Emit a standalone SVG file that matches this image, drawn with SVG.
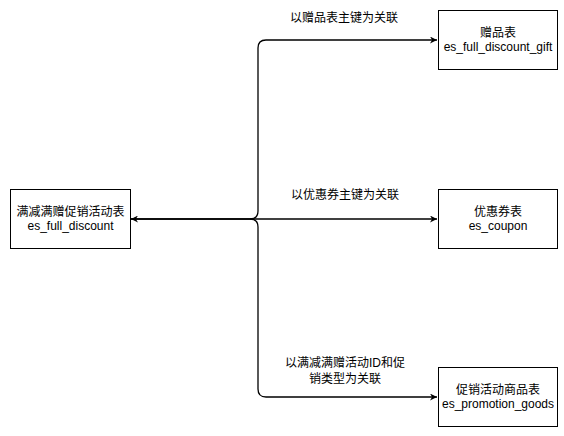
<svg xmlns="http://www.w3.org/2000/svg" width="564" height="436" viewBox="0 0 564 436">
<defs>
<marker id="arr" viewBox="0 0 10 10" refX="10" refY="5" markerWidth="7" markerHeight="7" markerUnits="userSpaceOnUse" orient="auto-start-reverse">
<path d="M0,0 L10,5 L0,10 L3,5 Z" fill="#000"/>
</marker>
<style>
.box{fill:#fff;stroke:#000;stroke-width:1}
.t{font-family:"Liberation Sans","Noto Sans CJK SC",sans-serif;font-size:12px;fill:#000;text-anchor:middle}
.e{fill:none;stroke:#000;stroke-width:1.3}
</style>
</defs>
<rect width="564" height="436" fill="#fff"/>
<g id="connectors">
<path class="e" d="M131 219 L250 219 Q258 219 258 211 L258 48 Q258 40 266 40 L437 40" marker-start="url(#arr)" marker-end="url(#arr)"/>
<path class="e" d="M131 219 L437 219" marker-end="url(#arr)"/>
<path class="e" d="M250 219 Q258 219 258 227 L258 389 Q258 397 266 397 L437 397" marker-end="url(#arr)"/>
<text class="t" x="344" y="22">以赠品表主键为关联</text>
<text class="t" x="345" y="199">以优惠券主键为关联</text>
<text class="t" x="345" y="367">以满减满赠活动ID和促</text>
<text class="t" x="345" y="383">销类型为关联</text>
</g>
<g id="full_discount">
<rect class="box" x="10.5" y="189.5" width="120" height="59"/>
<text class="t" x="70.5" y="216">满减满赠促销活动表</text>
<text class="t" x="70.5" y="230">es_full_discount</text>
</g>
<g id="gift">
<rect class="box" x="438.5" y="10.5" width="119" height="59"/>
<text class="t" x="498" y="37">赠品表</text>
<text class="t" x="498" y="51">es_full_discount_gift</text>
</g>
<g id="coupon">
<rect class="box" x="438.5" y="189.5" width="119" height="59"/>
<text class="t" x="498" y="216">优惠券表</text>
<text class="t" x="498" y="230">es_coupon</text>
</g>
<g id="promotion_goods">
<rect class="box" x="438.5" y="367.5" width="119" height="59"/>
<text class="t" x="498" y="394">促销活动商品表</text>
<text class="t" x="498" y="408">es_promotion_goods</text>
</g>
</svg>
